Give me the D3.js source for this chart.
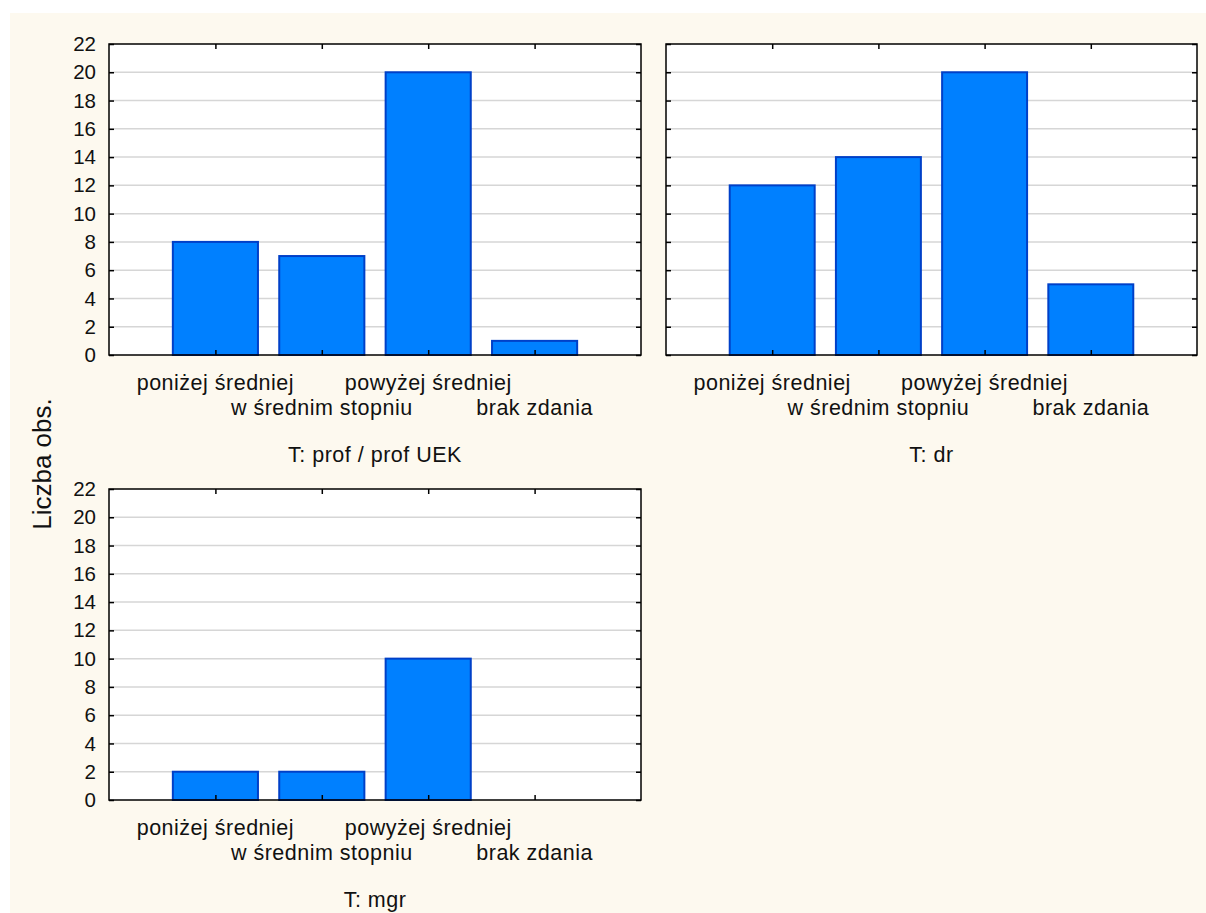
<!DOCTYPE html>
<html>
<head>
<meta charset="utf-8">
<script src="https://cdn.jsdelivr.net/npm/d3@7"></script>
<style>
  html, body { margin: 0; padding: 0; background: #ffffff; }
  svg { display: block; }
  text { font-family: "Liberation Sans", Arial, sans-serif; fill: #111; }
</style>
</head>
<body>
<svg id="chart" width="1206" height="913"></svg>
<script>
// ---- data ----
const categories = ["poniżej średniej", "w średnim stopniu", "powyżej średniej", "brak zdania"];
const yTicks = [0, 2, 4, 6, 8, 10, 12, 14, 16, 18, 20, 22];
const panelTitles = ["T: prof / prof UEK", "T: dr", "T: mgr"];
const valuesProf = [8, 7, 20, 1];
const valuesDr = [12, 14, 20, 5];
const valuesMgr = [2, 2, 10, 0];
const yLabel = "Liczba obs.";

const panelValues = [valuesProf, valuesDr, valuesMgr];

// ---- layout ----
const svg = d3.select("#chart");
svg.append("rect").attr("x", 10).attr("y", 13).attr("width", 1196).attr("height", 900).attr("fill", "#fdf9ef");

const panels = [
  { left: 109, right: 641, top: 44, bottom: 355, yLabels: true },
  { left: 666, right: 1197, top: 44, bottom: 355, yLabels: false },
  { left: 109, right: 641, top: 489, bottom: 800, yLabels: true }
];

const fontSize = 21.5;
const letterSp = 0.5;
const tickFont = 20.5;
const tickLen = 5;

panels.forEach((p, pi) => {
  const vals = panelValues[pi];
  const x = d3.scaleLinear().domain([0, categories.length + 1]).range([p.left, p.right]);
  const y = d3.scaleLinear().domain([0, 22]).range([p.bottom, p.top]);
  const g = svg.append("g");

  g.append("rect").attr("x", p.left).attr("y", p.top)
    .attr("width", p.right - p.left).attr("height", p.bottom - p.top).attr("fill", "#ffffff");

  g.selectAll(".grid").data(yTicks.filter(t => t > 0 && t < 22)).enter().append("line")
    .attr("x1", p.left).attr("x2", p.right)
    .attr("y1", d => y(d)).attr("y2", d => y(d))
    .attr("stroke", "#d6d6d6").attr("stroke-width", 1.5);

  const bw = (x(1) - x(0)) * 0.8;
  g.selectAll(".bar").data(vals.map((v, i) => ({ v, i })).filter(d => d.v > 0)).enter().append("rect")
    .attr("x", d => x(d.i + 1) - bw / 2)
    .attr("width", bw)
    .attr("y", d => y(d.v))
    .attr("height", d => y(0) - y(d.v))
    .attr("fill", "#0080ff")
    .attr("stroke", "#0040c8")
    .attr("stroke-width", 2);

  const axL = d3.axisLeft(y).tickValues(yTicks).tickSize(-tickLen).tickPadding(13)
    .tickFormat(p.yLabels ? d3.format("d") : "");
  const axR = d3.axisRight(y).tickValues(yTicks).tickSize(-tickLen).tickFormat("");
  const xVals = d3.range(1, categories.length + 1);
  const axB = d3.axisBottom(x).tickValues(xVals).tickSize(-tickLen).tickFormat("");
  const axT = d3.axisTop(x).tickValues(xVals).tickSize(-tickLen).tickFormat("");

  const gl = g.append("g").attr("transform", `translate(${p.left},0)`).call(axL);
  g.append("g").attr("transform", `translate(${p.right},0)`).call(axR);
  g.append("g").attr("transform", `translate(0,${p.bottom})`).call(axB);
  g.append("g").attr("transform", `translate(0,${p.top})`).call(axT);

  g.selectAll(".domain").remove();
  g.selectAll(".tick line").attr("stroke", "#000").attr("stroke-width", 1.5);
  gl.selectAll(".tick text")
    .attr("font-size", tickFont)
    .attr("font-family", "'Liberation Sans', Arial, sans-serif").attr("fill", "#111");

  g.append("rect").attr("x", p.left).attr("y", p.top)
    .attr("width", p.right - p.left).attr("height", p.bottom - p.top)
    .attr("fill", "none").attr("stroke", "#000").attr("stroke-width", 1.5);

  g.selectAll(".cat").data(categories).enter().append("text")
    .attr("x", (d, i) => x(i + 1))
    .attr("y", (d, i) => p.bottom + (i % 2 === 0 ? 35 : 60))
    .attr("text-anchor", "middle")
    .attr("font-size", fontSize).attr("letter-spacing", letterSp)
    .text(d => d);

  g.append("text")
    .attr("x", (p.left + p.right) / 2)
    .attr("y", p.bottom + 107)
    .attr("text-anchor", "middle")
    .attr("font-size", fontSize).attr("letter-spacing", letterSp)
    .text(panelTitles[pi]);
});

svg.append("text")
  .attr("transform", "translate(51,464) rotate(-90)")
  .attr("text-anchor", "middle")
  .attr("font-size", 26)
  .text(yLabel);
</script>
</body>
</html>
